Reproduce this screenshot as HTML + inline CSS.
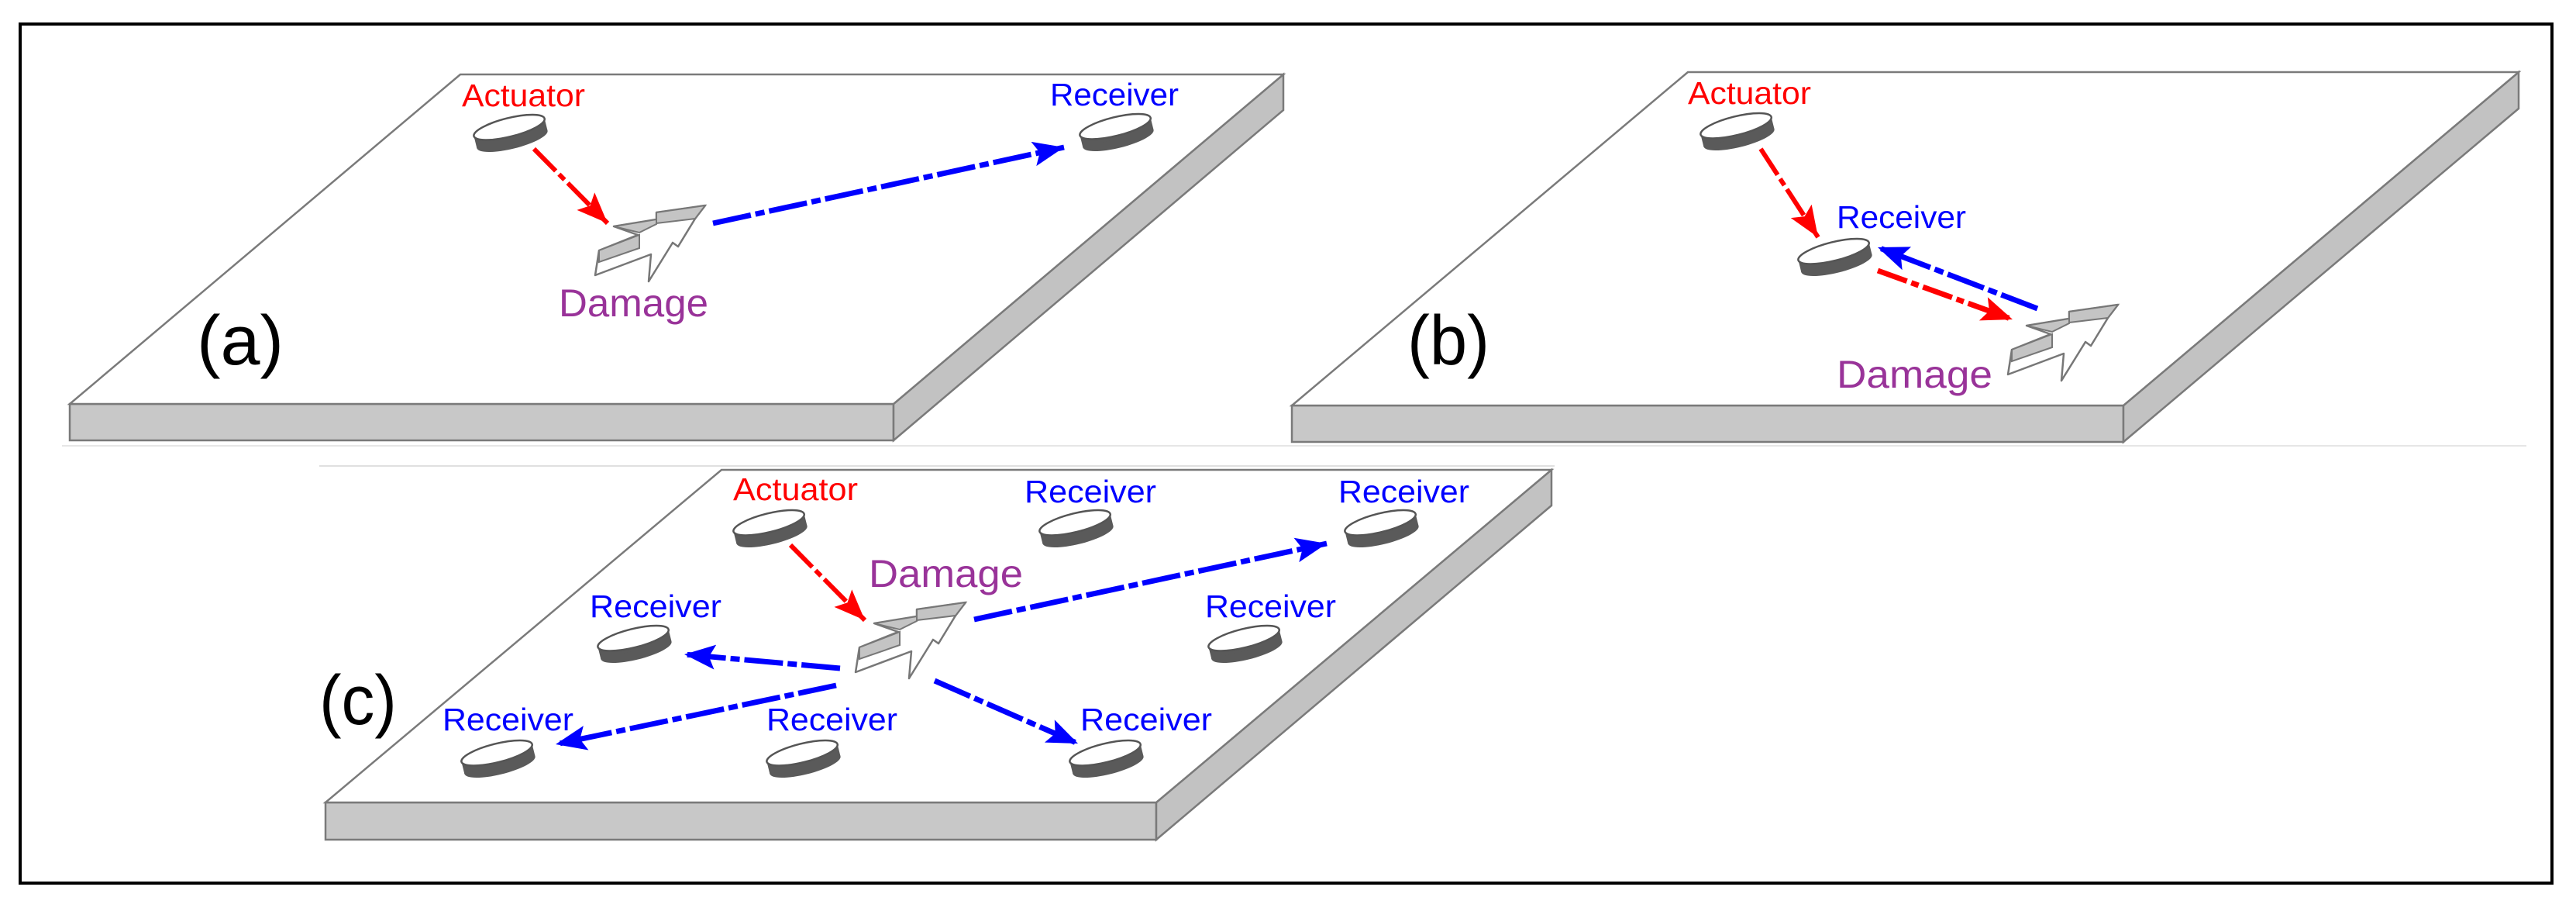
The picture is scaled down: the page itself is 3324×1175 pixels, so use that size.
<!DOCTYPE html>
<html><head><meta charset="utf-8"><style>
html,body{margin:0;padding:0;background:#fff;}
svg{display:block;}
text{font-family:"Liberation Sans",Arial,sans-serif;}
</style></head><body>
<svg width="3324" height="1175" viewBox="0 0 3324 1175" xmlns="http://www.w3.org/2000/svg">
<defs>
<marker id="hr" markerUnits="userSpaceOnUse" markerWidth="50" markerHeight="40" refX="40" refY="16" orient="auto"><path d="M0,0 L40,16 L0,32 L8,16 Z" fill="#ff0000"/></marker>
<marker id="hb" markerUnits="userSpaceOnUse" markerWidth="50" markerHeight="40" refX="40" refY="16" orient="auto"><path d="M0,0 L40,16 L0,32 L8,16 Z" fill="#0000ff"/></marker>
<g id="disc">
<g transform="rotate(-14)">
<ellipse cx="0" cy="8" rx="47" ry="12" fill="#5a5a5a"/>
<rect x="-47" y="-8" width="94" height="16" fill="#5a5a5a"/>
<ellipse cx="0" cy="-8" rx="47" ry="12" fill="#fff" stroke="#555" stroke-width="2.5"/>
</g>
</g>
<g id="crack">
<path d="M142,1 L79,10 L79,19 L24,28 L55,39 L5,59 L0,91 L72,64 L69,99 L100,49 L107,54 L129,18 Z" fill="#fff" stroke="#777" stroke-width="2.5" stroke-linejoin="round"/>
<path d="M79,10 L142,1 L129,18 L79,24 Z" fill="#c4c4c4" stroke="#777" stroke-width="2"/>
<path d="M24,28 L79,19 L79,25 L57,36 Z" fill="#c4c4c4" stroke="#777" stroke-width="2"/>
<path d="M5,59 L57,39 L57,56 L5,74 Z" fill="#c4c4c4" stroke="#777" stroke-width="2"/>
</g>
</defs>

<rect x="26" y="31" width="3267" height="1108" fill="none" stroke="#000" stroke-width="4"/>

<!-- Panel a -->
<line x1="80" y1="575" x2="1662" y2="575" stroke="#e6e6e6" stroke-width="2"/>
<polygon points="90,521 1153,521 1153,568 90,568" fill="#c8c8c8" stroke="#7a7a7a" stroke-width="2.5"/>
<polygon points="1153,521 1656,96 1656,142 1153,568" fill="#c2c2c2" stroke="#7a7a7a" stroke-width="2.5"/>
<polygon points="594,96 1656,96 1153,521 90,521" fill="#fff" stroke="#7a7a7a" stroke-width="2.5"/>
<use href="#disc" x="659" y="172"/>
<use href="#disc" x="1441" y="171"/>
<text x="596" y="137" font-size="41" fill="#ff0000" textLength="159" lengthAdjust="spacingAndGlyphs">Actuator</text>
<text x="1355" y="136" font-size="41" fill="#0000ff" textLength="166" lengthAdjust="spacingAndGlyphs">Receiver</text>
<use href="#crack" x="768" y="264"/>
<text x="721" y="408" font-size="50" fill="#993399" textLength="193" lengthAdjust="spacingAndGlyphs">Damage</text>
<text x="254" y="470" font-size="90" fill="#000" textLength="112" lengthAdjust="spacingAndGlyphs">(a)</text>
<line x1="689" y1="192" x2="784" y2="288" stroke="#ff0000" stroke-width="6" stroke-dasharray="40 6 10 6" marker-end="url(#hr)"/>
<line x1="920" y1="288" x2="1373" y2="190" stroke="#0000ff" stroke-width="7" stroke-dasharray="50 6 12 6" marker-end="url(#hb)"/>

<!-- Panel b -->
<line x1="1662" y1="575" x2="3260" y2="575" stroke="#e6e6e6" stroke-width="2"/>
<polygon points="1667,523 2740,523 2740,570 1667,570" fill="#c8c8c8" stroke="#7a7a7a" stroke-width="2.5"/>
<polygon points="2740,523 3250,93 3250,140 2740,570" fill="#c2c2c2" stroke="#7a7a7a" stroke-width="2.5"/>
<polygon points="2178,93 3250,93 2740,523 1667,523" fill="#fff" stroke="#7a7a7a" stroke-width="2.5"/>
<use href="#disc" x="2242" y="170"/>
<use href="#disc" x="2368" y="332"/>
<text x="2178" y="134" font-size="41" fill="#ff0000" textLength="159" lengthAdjust="spacingAndGlyphs">Actuator</text>
<text x="2370" y="294" font-size="41" fill="#0000ff" textLength="167" lengthAdjust="spacingAndGlyphs">Receiver</text>
<use href="#crack" x="2591" y="392"/>
<text x="2370" y="500" font-size="50" fill="#993399" textLength="201" lengthAdjust="spacingAndGlyphs">Damage</text>
<text x="1816" y="470" font-size="90" fill="#000" textLength="106" lengthAdjust="spacingAndGlyphs">(b)</text>
<line x1="2272" y1="192" x2="2346" y2="306" stroke="#ff0000" stroke-width="6" stroke-dasharray="40 6 10 6" marker-end="url(#hr)"/>
<line x1="2629" y1="398" x2="2423" y2="319" stroke="#0000ff" stroke-width="7" stroke-dasharray="50 6 12 6" marker-end="url(#hb)"/>
<line x1="2423" y1="349" x2="2597" y2="412" stroke="#ff0000" stroke-width="7" stroke-dasharray="40 6 10 6" marker-end="url(#hr)"/>

<!-- Panel c -->
<line x1="412" y1="601" x2="2006" y2="601" stroke="#e0e0e0" stroke-width="2"/>
<polygon points="420,1035 1492,1035 1492,1083 420,1083" fill="#c8c8c8" stroke="#7a7a7a" stroke-width="2.5"/>
<polygon points="1492,1035 2002,606 2002,652 1492,1083" fill="#c2c2c2" stroke="#7a7a7a" stroke-width="2.5"/>
<polygon points="931,606 2002,606 1492,1035 420,1035" fill="#fff" stroke="#7a7a7a" stroke-width="2.5"/>
<use href="#disc" x="994" y="682"/>
<use href="#disc" x="1389" y="682"/>
<use href="#disc" x="1783" y="682"/>
<use href="#disc" x="819" y="831"/>
<use href="#disc" x="1607" y="831"/>
<use href="#disc" x="643" y="979"/>
<use href="#disc" x="1037" y="979"/>
<use href="#disc" x="1428" y="979"/>
<text x="946" y="645" font-size="41" fill="#ff0000" textLength="161" lengthAdjust="spacingAndGlyphs">Actuator</text>
<text x="1322" y="648" font-size="41" fill="#0000ff" textLength="170" lengthAdjust="spacingAndGlyphs">Receiver</text>
<text x="1727" y="648" font-size="41" fill="#0000ff" textLength="169" lengthAdjust="spacingAndGlyphs">Receiver</text>
<text x="761" y="796" font-size="41" fill="#0000ff" textLength="170" lengthAdjust="spacingAndGlyphs">Receiver</text>
<text x="1555" y="796" font-size="41" fill="#0000ff" textLength="169" lengthAdjust="spacingAndGlyphs">Receiver</text>
<text x="571" y="942" font-size="41" fill="#0000ff" textLength="169" lengthAdjust="spacingAndGlyphs">Receiver</text>
<text x="989" y="942" font-size="41" fill="#0000ff" textLength="169" lengthAdjust="spacingAndGlyphs">Receiver</text>
<text x="1394" y="942" font-size="41" fill="#0000ff" textLength="170" lengthAdjust="spacingAndGlyphs">Receiver</text>
<use href="#crack" x="1104" y="776"/>
<text x="1121" y="757" font-size="50" fill="#993399" textLength="199" lengthAdjust="spacingAndGlyphs">Damage</text>
<text x="412" y="934" font-size="90" fill="#000" textLength="100" lengthAdjust="spacingAndGlyphs">(c)</text>
<line x1="1020" y1="703" x2="1116" y2="800" stroke="#ff0000" stroke-width="6" stroke-dasharray="40 6 10 6" marker-end="url(#hr)"/>
<line x1="1257" y1="799" x2="1712" y2="701" stroke="#0000ff" stroke-width="7" stroke-dasharray="50 6 12 6" marker-end="url(#hb)"/>
<line x1="1084" y1="862" x2="883" y2="844" stroke="#0000ff" stroke-width="7" stroke-dasharray="50 6 12 6" marker-end="url(#hb)"/>
<line x1="1079" y1="884" x2="717" y2="960" stroke="#0000ff" stroke-width="7" stroke-dasharray="50 6 12 6" marker-end="url(#hb)"/>
<line x1="1206" y1="878" x2="1391" y2="959" stroke="#0000ff" stroke-width="7" stroke-dasharray="50 6 12 6" marker-end="url(#hb)"/>
</svg>
</body></html>
